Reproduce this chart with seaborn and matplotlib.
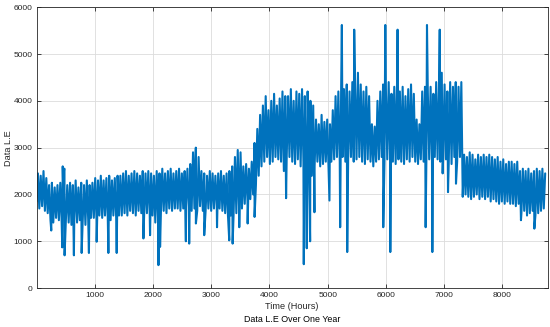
import numpy as np
import pandas as pd
import matplotlib
matplotlib.use('Agg')
import matplotlib.pyplot as plt
import seaborn as sns

# one reading every 24 hours, alternating near the top / bottom of the band
load_rows = [
    [1850, 2450, 1700, 2400, 1750, 2500, 1650, 2350, 1600, 2200, 1450, 2250, 1400, 2150, 1500, 2200, 1450, 2250, 1400, 2300],
    [2550, 1450, 2200, 1400, 2250, 1350, 2200, 1450, 2300, 1400, 2150, 1450, 2250, 1400, 2200, 1350, 2300, 1450, 2200, 1500],
    [2250, 1500, 2350, 1450, 2300, 1550, 2400, 1500, 2300, 1550, 2350, 1500, 2400, 1450, 2300, 1550, 2350, 1500, 2400, 1550],
    [2400, 1550, 2450, 1600, 2500, 1550, 2400, 1650, 2450, 1600, 2500, 1550, 2450, 1650, 2400, 1600, 2500, 1550, 2450, 1600],
    [2500, 1600, 2450, 1550, 2400, 1400, 2500, 1450, 2450, 1600, 2550, 1650, 2450, 1600, 2500, 1700, 2550, 1650, 2450, 1700],
    [2500, 1700, 2550, 1650, 2450, 1700, 2500, 1750, 2550, 1700, 2650, 1650, 2900, 1700, 3000, 1650, 2800, 1750, 2500, 1650],
    [2450, 1650, 2400, 1700, 2500, 1650, 2450, 1700, 2400, 1750, 2450, 1700, 2500, 1650, 2400, 1600, 2450, 1550, 2500, 1550],
    [2600, 1550, 2800, 1600, 2950, 1650, 2900, 1700, 2600, 1800, 2650, 1850, 2550, 1900, 2700, 2000, 3100, 2200, 3400, 2400],
    [3700, 2600, 3900, 2700, 4100, 2800, 3800, 2650, 4000, 2700, 4150, 2800, 3900, 2750, 4050, 2700, 4200, 2500, 4100, 2750],
    [4100, 2800, 4250, 2700, 4000, 2650, 4200, 2750, 4150, 2600, 4250, 2700, 4100, 2300, 4200, 2500, 4000, 2400, 3900, 2600],
    [3600, 2700, 3500, 2600, 3700, 2650, 3550, 2700, 3600, 2500, 3500, 2700, 3800, 2750, 4100, 2800, 4200, 2700, 4300, 2800],
    [4250, 2700, 4350, 2750, 4200, 2800, 4400, 2700, 4300, 2750, 4600, 2800, 4350, 2700, 4200, 2650, 4300, 2750, 4100, 2700],
    [3500, 2600, 3450, 2700, 4000, 2750, 4200, 2800, 4350, 2700, 4250, 2750, 4400, 2800, 4150, 2700, 4300, 2650, 4400, 2750],
    [4200, 2700, 4300, 2650, 4100, 2750, 4250, 2700, 4350, 2800, 4150, 2700, 3600, 2650, 3500, 2750, 4200, 2700, 4300, 2800],
    [4200, 2750, 4300, 2700, 4150, 2800, 4400, 2750, 4300, 2700, 4600, 2800, 4350, 2750, 4200, 2700, 4400, 2650, 4300, 2800],
    [4400, 2700, 4300, 2800, 4400, 1950, 2850, 2000, 2800, 1950, 2900, 1900, 2850, 1950, 2750, 2000, 2850, 1900, 2800, 1950],
    [2850, 1900, 2800, 1950, 2850, 1850, 2800, 1900, 2750, 1850, 2800, 1800, 2700, 1850, 2750, 1800, 2650, 1850, 2700, 1800],
    [2700, 1800, 2650, 1750, 2700, 1800, 2500, 1600, 2550, 1650, 2500, 1550, 2550, 1600, 2450, 1650, 2500, 1550, 2550, 1600],
    [2500, 1650, 2550, 1700, 2450],
]

# isolated peaks and dips
spike_hours = [253, 442, 450, 475, 482, 642, 775, 900, 1033, 1234, 1377, 1836, 1950,
               2094, 2122, 2565, 2622, 2737, 2880, 3100, 3310, 3368, 3482, 3626, 3745,
               4286, 4590, 4641, 4699, 4773, 5031, 5215, 5244, 5336, 5456, 5955, 5990,
               6076, 6201, 6683, 6706, 6798, 6925, 6975, 7067, 7204, 8320, 8550]
spike_values = [1230, 870, 2600, 2550, 700, 700, 750, 750, 990, 750, 750, 1060, 1130,
                490, 880, 1000, 950, 1380, 1130, 1300, 1020, 950, 1300, 1380, 1520,
                1920, 510, 850, 1000, 1620, 1870, 1300, 5620, 770, 5520, 1300, 5620,
                770, 5520, 1300, 5620, 770, 5520, 2450, 2050, 2230, 1450, 1270]

load = [v for row in load_rows for v in row]
hours = list(np.arange(len(load)) * 24)

df = pd.DataFrame({'hour': hours + spike_hours, 'load': load + spike_values})
df = df.sort_values('hour', kind='stable').reset_index(drop=True)

sns.set_style('ticks')
plt.rcParams['font.family'] = ['Liberation Sans', 'DejaVu Sans']

dark = '#262626'
fig = plt.figure(figsize=(5.5, 3.27), dpi=100)
ax = fig.add_axes([0.0664, 0.119, 0.9295, 0.859])

sns.lineplot(data=df, x='hour', y='load', ax=ax, sort=False, estimator=None,
             color='#0072BD', linewidth=1.5)

ax.set_xlim(0, 8780)
ax.set_ylim(0, 6000)
ax.set_xticks(range(1000, 9000, 1000))
ax.set_yticks(range(0, 7000, 1000))
ax.grid(True, color='#dcdcdc', linewidth=0.6)
ax.set_axisbelow(True)
ax.tick_params(direction='in', length=3, width=0.6, labelsize=6, colors=dark,
               top=True, right=True, pad=3)
for s in ax.spines.values():
    s.set_color(dark)
    s.set_linewidth(0.6)

ax.set_xlabel('Time (Hours)', fontsize=6.6, color=dark, labelpad=2)
ax.set_ylabel('Data L.E', fontsize=6.6, color=dark, labelpad=0)
fig.text(0.531, 0.024, 'Data L.E Over One Year', ha='center', va='center',
         fontsize=6.4, color='black')

fig.savefig('out.png', dpi=100)
